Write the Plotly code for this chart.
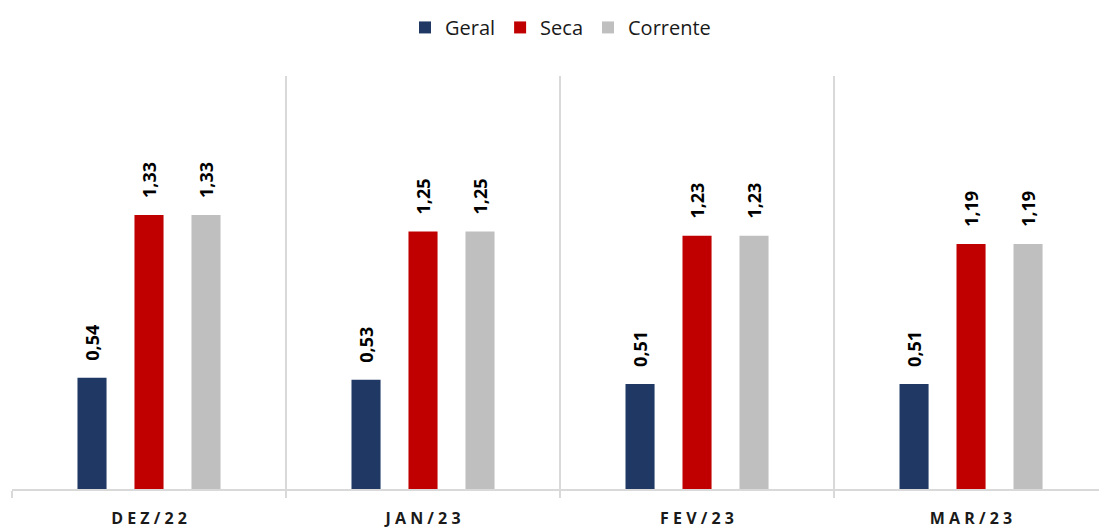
import plotly.graph_objects as go

categories = ["DEZ/22", "JAN/23", "FEV/23", "MAR/23"]
tick_labels = ["D E Z / 2 2", "J A N / 2 3", "F E V / 2 3", "M A R / 2 3"]
geral = [0.54, 0.53, 0.51, 0.51]
seca = [1.33, 1.25, 1.23, 1.19]
corrente = [1.33, 1.25, 1.23, 1.19]

series = [
    ("Geral", geral, "#203864"),
    ("Seca", seca, "#C00000"),
    ("Corrente", corrente, "#BFBFBF"),
]

PAD = "\u00a0\u00a0\u00a0"

def fmt(v):
    return PAD + f"{v:.2f}".replace(".", ",")

fig = go.Figure()
for name, vals, color in series:
    fig.add_trace(go.Bar(
        name=name, x=categories, y=vals,
        marker=dict(color=color, line=dict(width=0)),
        text=[fmt(v) for v in vals],
        textposition="outside", textangle=-90, constraintext="none",
        textfont=dict(family="Open Sans", size=18, color="#000000", weight="bold"),
        cliponaxis=False,
    ))

fig.update_layout(
    width=1099, height=529,
    margin=dict(l=12, r=0, t=76, b=40, autoexpand=False),
    plot_bgcolor="white", paper_bgcolor="white",
    barmode="group", bargap=0.376, bargroupgap=0.49,
    showlegend=True,
    legend=dict(orientation="h", x=0.5046, xanchor="center", y=0.985, yref="container",
                yanchor="top", font=dict(family="Open Sans", size=20, color="#1a1a1a"),
                itemwidth=30, traceorder="normal"),
    xaxis=dict(
        tickmode="array", tickvals=categories, ticktext=tick_labels,
        tickson="boundaries", showgrid=True, gridcolor="#d9d9d9", gridwidth=1.5,
        showline=True, linecolor="#d9d9d9", linewidth=1.5,
        ticks="outside", ticklen=7, tickcolor="#d9d9d9", tickwidth=1.5,
        range=[-0.5, 3.467], automargin=False, ticklabelstandoff=14,
        tickfont=dict(family="Open Sans", size=16, color="#1a1a1a", weight="bold"),
    ),
    yaxis=dict(range=[0, 2.005], showgrid=False, showticklabels=False, zeroline=False,
               showline=False, automargin=False),
)

fig.write_html(
    "out.html",
    config={"displayModeBar": False},
    post_script="document.body.style.margin='0';document.body.style.overflow='hidden';",
)
